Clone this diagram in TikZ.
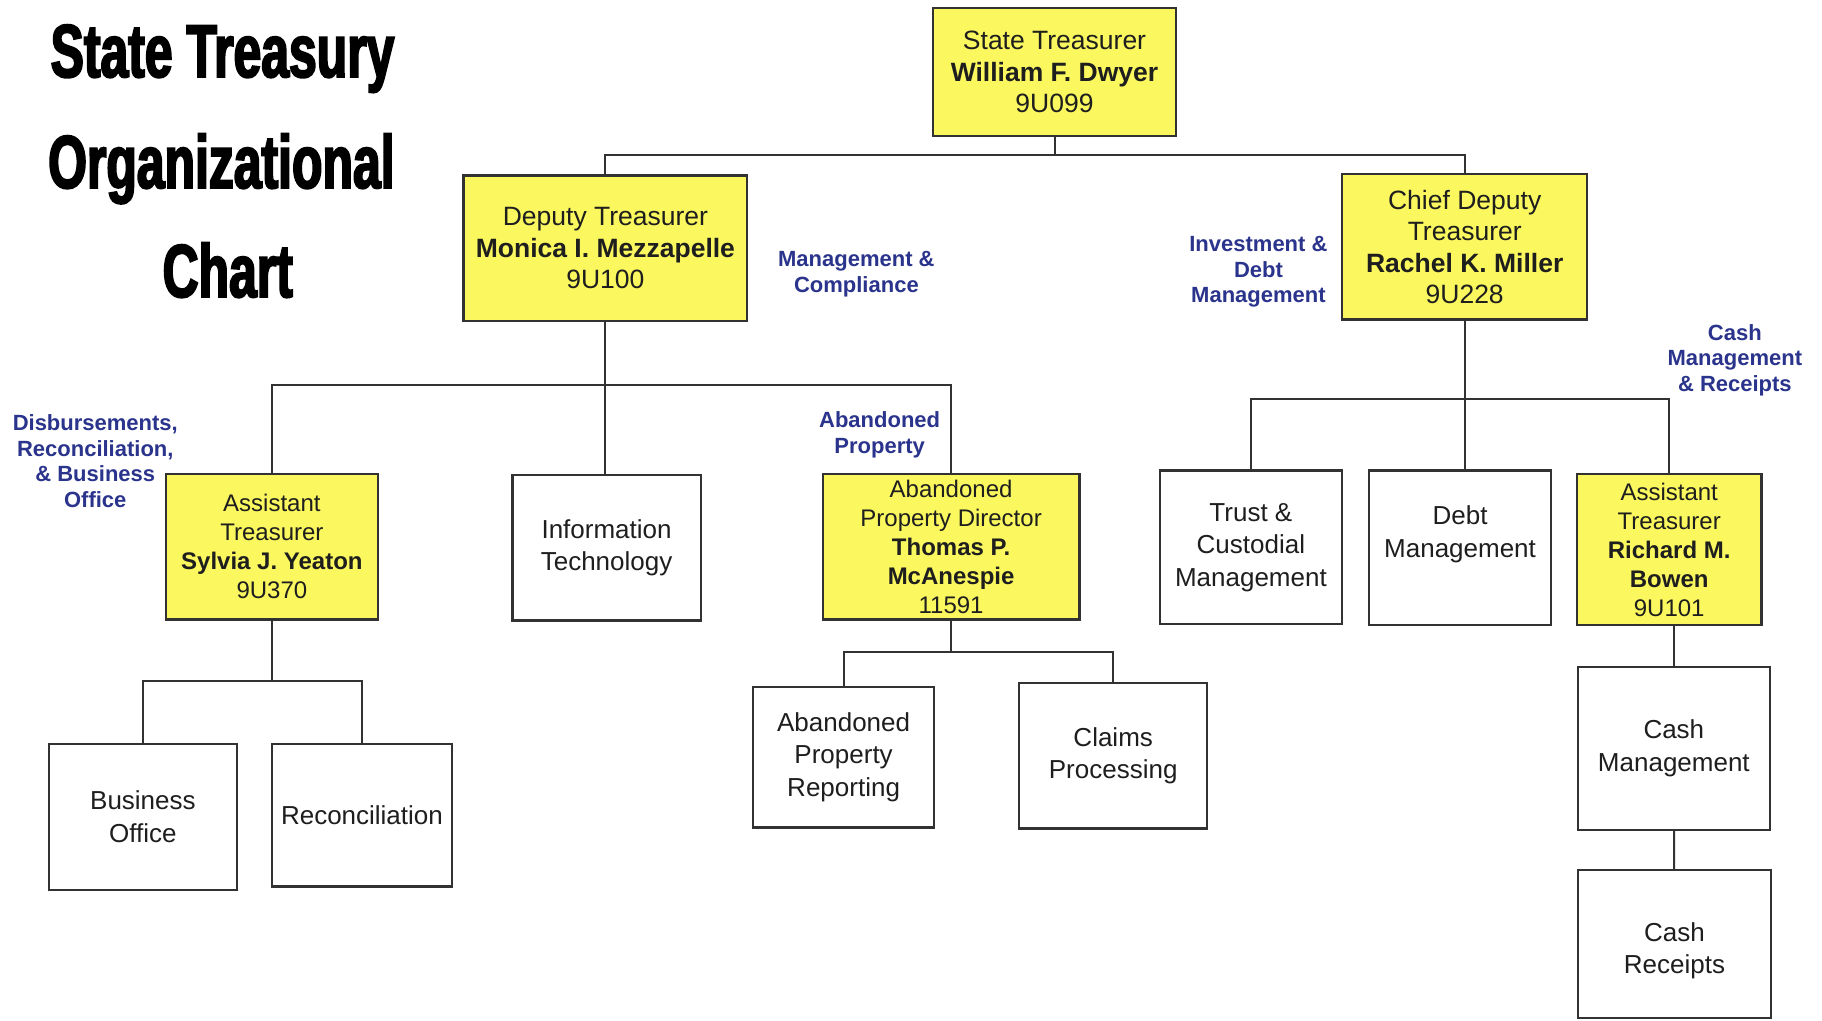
\documentclass[tikz,border=0pt]{standalone}
\usepackage{fontspec}
\setmainfont{Liberation Sans}
\newfontfamily\titlefont[FakeStretch=0.665,FakeBold=2.5]{Liberation Sans}
\definecolor{boxyellow}{RGB}{250,247,95}
\definecolor{labelblue}{RGB}{43,52,140}
\definecolor{ink}{RGB}{30,30,30}
\definecolor{edge}{RGB}{50,50,50}
\tikzset{
  box/.style={draw=edge, line width=2.3pt, inner sep=0pt, align=center, text=ink, fill=white,
    font=\fontsize{26}{32.5}\selectfont},
  topbox/.style={box, fill=boxyellow, font=\fontsize{26.5}{31.5}\selectfont},
  ybox/.style={box, fill=boxyellow, font=\fontsize{24}{29}\selectfont},
  sz/.style 2 args={minimum width=#1*1.162pt, minimum height=#2*1.162pt},
  lbl/.style={text=labelblue, align=center, font=\bfseries\fontsize{22}{25.6}\selectfont},
  conn/.style={draw=edge, line width=2pt},
  ttl/.style={anchor=base, text=black, font=\titlefont\bfseries\fontsize{75}{90}\selectfont}
}
\begin{document}
\begin{tikzpicture}[x=1.162pt, y=-1.162pt]
\useasboundingbox[fill=white] (0,0) rectangle (1568,878);

% title
\node[ttl] (t1) at (191.5,66.3) {State Treasury};
\node[ttl] (t2) at (190.5,161.8) {Organizational};
\node[ttl] (t3) at (196,255.6) {Chart};

% boxes
\node[topbox, sz={209}{110}] (st) at (907.5,62) {State Treasurer\\\textbf{William F. Dwyer}\\9U099};
\node[topbox, sz={244}{125}] (dep) at (521,213.5) {Deputy Treasurer\\\textbf{Monica I. Mezzapelle}\\9U100};
\node[topbox, sz={211}{125}] (chief) at (1260.5,212.5) {Chief Deputy\\Treasurer\\\textbf{Rachel K. Miller}\\9U228};

\node[ybox, sz={182}{125}] (sylvia) at (234,470.5) {Assistant\\Treasurer\\\textbf{Sylvia J. Yeaton}\\9U370};
\node[box, sz={162}{125}] (it) at (522,471.5) {Information\\Technology};
\node[ybox, sz={221}{125}] (apd) at (818.5,470.5) {Abandoned\\Property Director\\\textbf{Thomas P.}\\\textbf{McAnespie}\\11591};
\node[box, sz={157}{132}] (trust) at (1076.5,471) {Trust \&\\Custodial\\Management};
\node[box, sz={157}{133}] (debt) at (1256.5,471.5) {Debt\\Management\\\mbox{}};
\node[ybox, sz={159}{130}] (richard) at (1436.5,473) {Assistant\\Treasurer\\\textbf{Richard M.}\\\textbf{Bowen}\\9U101};

\node[box, sz={162}{126}] (bo) at (123,703) {Business\\Office};
\node[box, sz={155}{123}] (rec) at (311.5,701.5) {Reconciliation};
\node[box, sz={156}{121}] (apr) at (726,651.5) {Abandoned\\Property\\Reporting};
\node[box, sz={162}{125}] (claims) at (958,650.5) {Claims\\Processing};
\node[box, sz={165}{140}] (cm) at (1440.5,644) {Cash\\Management};
\node[box, sz={166}{127}] (cr) at (1441,812.5) {\mbox{}\\Cash\\Receipts};

% bus coordinates
\coordinate (b1) at (907.5,133);
\coordinate (b2) at (521,331);
\coordinate (b3) at (1260.5,343);
\coordinate (b4) at (234,586);
\coordinate (b5) at (818.5,561);

% connectors
\draw[conn] (st.south) -- (b1);
\draw[conn] (dep.north) |- (b1) -| (chief.north);
\draw[conn] (dep.south) -- (dep.south |- it.north);
\draw[conn] (sylvia.north) |- (b2) -| (apd.north);
\draw[conn] (chief.south) -- (chief.south |- debt.north);
\draw[conn] (trust.north) |- (b3) -| (richard.north);
\draw[conn] (sylvia.south) -- (b4);
\draw[conn] (bo.north) |- (b4) -| (rec.north);
\draw[conn] (apd.south) -- (b5);
\draw[conn] (apr.north) |- (b5) -| (claims.north);
\draw[conn] (cm.north) -- (cm.north |- richard.south);
\draw[conn] (cm) -- (cr);

% labels
\node[lbl] (lmc) at (737,236) {Management \&\\Compliance};
\node[lbl] (lidm) at (1083,234) {Investment \&\\Debt\\Management};
\node[lbl] (lcmr) at (1493,310) {Cash\\Management\\\& Receipts};
\node[lbl] (ldrb) at (82,397) {Disbursements,\\Reconciliation,\\\& Business\\Office};
\node[lbl] (lap) at (757,374) {Abandoned\\Property};
\end{tikzpicture}
\end{document}
